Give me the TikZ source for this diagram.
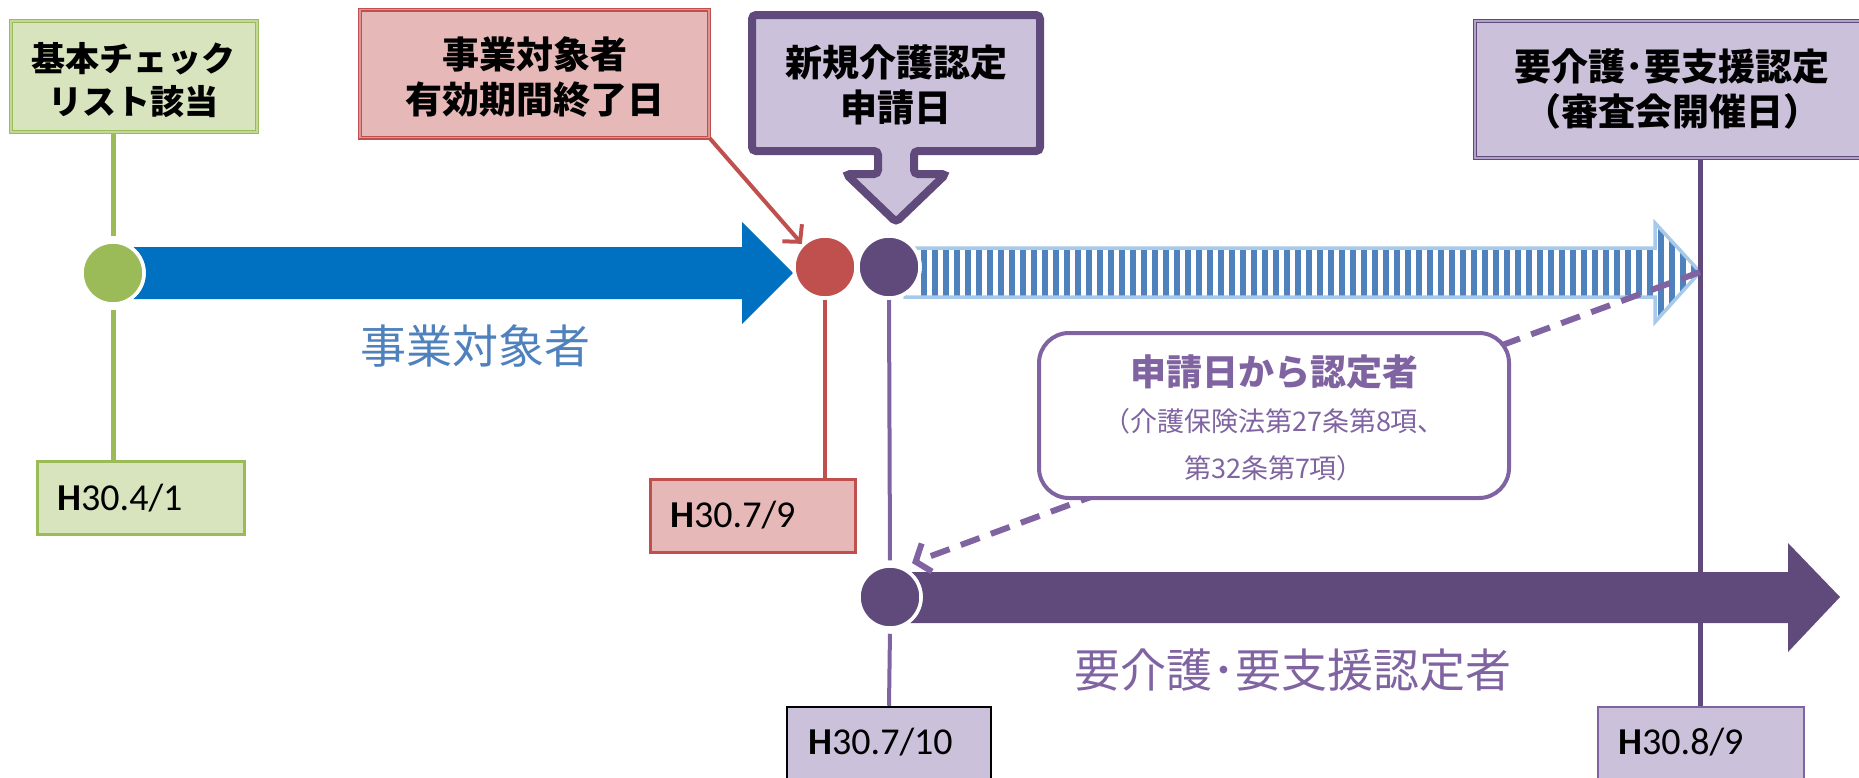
\documentclass[tikz,border=0pt]{standalone}
\usepackage{fontspec}
\setmainfont{Carlito}
\newfontfamily\jp{Noto Sans CJK JP}
\usetikzlibrary{arrows.meta}
\definecolor{grn}{HTML}{9BBB59}
\definecolor{grnfill}{HTML}{D7E4BD}
\definecolor{grndbl}{HTML}{C3D69B}
\definecolor{redc}{HTML}{C0504D}
\definecolor{redfill}{HTML}{E6B9B8}
\definecolor{reddbl}{HTML}{D99694}
\definecolor{pdark}{HTML}{604A7B}
\definecolor{plight}{HTML}{8064A2}
\definecolor{pfill}{HTML}{CCC1DA}
\definecolor{pdbl}{HTML}{B3A2C7}
\definecolor{bluec}{HTML}{0070C0}
\definecolor{stripec}{HTML}{4F81BD}
\definecolor{lblue}{HTML}{A7CAEA}
\definecolor{bluetxt}{HTML}{4F81BD}
\begin{document}
\begin{tikzpicture}[x=1pt,y=-1pt,
  titletxt/.style={font=\jp\bfseries\fontsize{37}{45}\selectfont, align=center, inner sep=0pt, text=black},
  dot/.style={circle, minimum size=62pt, inner sep=0pt, draw=white, line width=3.5pt},
  datebox/.style={rectangle, inner sep=0pt, line width=3pt},
  datetxt/.style={font=\fontsize{38}{44}\selectfont, inner sep=0pt, anchor=west, text=black},
  dbox/.style={rectangle, inner sep=0pt, line width=1.2pt, double distance=1.6pt}
]
\clip (0,0) rectangle (1859,777);
% hatched arrow
\coordinate (htip) at (1700,272);
\fill[white] (905,248) -- (1655,248) -- (1655,223) -- (htip) -- (1655,322) -- (1655,297) -- (905,297) -- cycle;
\begin{scope}
\clip (905,248) -- (1655,248) -- (1655,223) -- (htip) -- (1655,322) -- (1655,297) -- (905,297) -- cycle;
\foreach \i in {0,...,71} \draw[stripec, line width=5.5pt] ({924+11*\i},200) -- ++(0,140);
\end{scope}
\draw[lblue, line width=3.5pt] (905,248) -- (1655,248) -- (1655,223) -- (htip) -- (1655,322) -- (1655,297) -- (905,297) -- cycle;
% blue arrow
\fill[bluec] (113,247) -- (742,247) -- (742,222) -- (793,273) -- (742,324) -- (742,299) -- (113,299) -- cycle;
% purple arrow
\fill[pdark] (890,572) -- (1788,572) -- (1788,543) -- (1840,597) -- (1788,652) -- (1788,623) -- (890,623) -- cycle;

% title boxes
\node[dbox, draw=grn, double=grndbl, fill=grnfill, minimum width=246pt, minimum height=111pt] (gbox) at (134,76.5) {};
\node[titletxt, font=\jp\bfseries\fontsize{34}{43}\selectfont] (gtxt) at (133,80) {基本チェック\\リスト該当};
\node[dbox, draw=redc, double=reddbl, fill=redfill, minimum width=349pt, minimum height=128pt] (rbox) at (534.5,73.5) {};
\node[titletxt] (rtxt) at (535,77) {事業対象者\\有効期間終了日};
\draw[pdark, fill=pfill, line width=8pt, rounded corners=4pt]
  (752,15) -- (1040,15) -- (1040,151) -- (914,151) -- (914,174) -- (946,174) -- (896,222)
  -- (846,174) -- (878,174) -- (878,151) -- (752,151) -- cycle;
\node[titletxt] (ctxt) at (896,85) {新規介護認定\\申請日};
\node[dbox, draw=pdark, double=pdbl, fill=pfill, minimum width=430pt, minimum height=137pt] (rb) at (1690,89.5) {};
\node[titletxt] (rbtxt) at (1672,89) {要介護･要支援認定\\（審査会開催日）};

% date boxes
\node[datebox, draw=grn, fill=grnfill, minimum width=207pt, minimum height=73pt] (d1) at (140.5,497.5) {};
\node[datetxt] (d1t) at (57,498) {\textbf{H}30.4/1};
\node[datebox, draw=redc, fill=redfill, minimum width=205pt, minimum height=73pt] (d2) at (752.5,515.5) {};
\node[datetxt] (d2t) at (670,515) {\textbf{H}30.7/9};
\node[datebox, draw=black, line width=2.5pt, fill=pfill, minimum width=204pt, minimum height=103pt] (d3) at (889,758.5) {};
\node[datetxt] (d3t) at (808,742) {\textbf{H}30.7/10};
\node[datebox, draw=plight, line width=2.5pt, fill=pfill, minimum width=206pt, minimum height=103pt] (d4) at (1701,758.5) {};
\node[datetxt] (d4t) at (1618,742) {\textbf{H}30.8/9};

% circles (positions)
\node[dot, fill=grn] (gc) at (113,273) {};
\node[dot, fill=redc] (rc) at (825,267) {};
\node[dot, fill=pdark] (pc) at (889,267) {};
\node[dot, fill=pdark] (pc2) at (890,597) {};

% connectors
\draw[grn, line width=5pt, shorten <=4pt] (gc.north) -- (gc.north |- gbox.south);
\draw[grn, line width=5pt, shorten <=4pt] (gc.south) -- (gc.south |- d1.north);
\draw[redc, line width=4pt] (rc.south) -- (rc.south |- d2.north);
\draw[plight, line width=4pt, shorten >=4pt] (pc.south) -- (pc2.north);
\draw[plight, line width=4pt, shorten <=4pt] (pc2.south) -- (d3.north);
\draw[pdark, line width=5pt] (htip |- rb.south) -- (htip |- d4.north);
\draw[redc, line width=4pt, -{Straight Barb[length=12pt,width=26pt]}] (rbox.south east) -- (rc.north west);

% redraw circles on top of connectors
\node[dot, fill=grn] at (gc) {};
\node[dot, fill=redc] at (rc) {};
\node[dot, fill=pdark] at (pc) {};
\node[dot, fill=pdark] at (pc2) {};

% dashed connector
\coordinate (dend) at (912,563);
\draw[plight, line width=6pt, dash pattern=on 20pt off 12pt, -{Straight Barb[length=12pt,width=30pt]}] (htip) -- (dend);

% note box
\node[draw=plight, line width=4pt, rounded corners=30pt, fill=white, minimum width=470pt, minimum height=165pt] (note) at (1274,415.5) {};
\node[font=\jp\bfseries\fontsize{36}{42}\selectfont, text=plight, inner sep=0pt] (nt1) at (1274,372) {申請日から認定者};
\node[font=\jp\fontsize{27}{47}\selectfont, text=plight, align=center, inner sep=0pt] (nt2) at (1274,445) {（介護保険法第27条第8項、\\第32条第7項）};

% labels
\node[font=\jp\fontsize{46}{50}\selectfont, text=bluetxt, inner sep=0pt] (lab1) at (475,346) {事業対象者};
\node[font=\jp\fontsize{46}{50}\selectfont, text=plight, inner sep=0pt] (lab2) at (1293,670) {要介護･要支援認定者};
\end{tikzpicture}
\end{document}
